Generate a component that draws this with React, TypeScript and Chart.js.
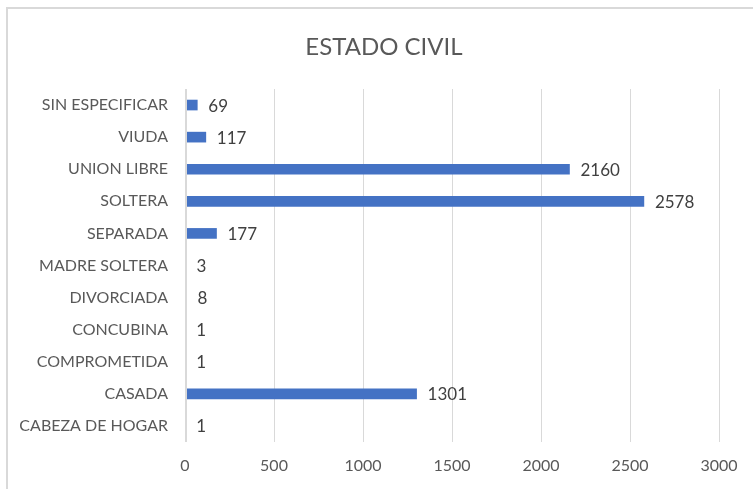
import React, { useEffect, useRef } from "react";
import { Chart, registerables } from "chart.js";

Chart.register(...registerables);

const categories = [
  "SIN ESPECIFICAR",
  "VIUDA",
  "UNION LIBRE",
  "SOLTERA",
  "SEPARADA",
  "MADRE SOLTERA",
  "DIVORCIADA",
  "CONCUBINA",
  "COMPROMETIDA",
  "CASADA",
  "CABEZA DE HOGAR",
];
const values = [69, 117, 2160, 2578, 177, 3, 8, 1, 1, 1301, 1];
const xMin = 0;
const xMax = 3000;
const xStep = 500;
const title = "ESTADO CIVIL";

const FONT = "Lato, 'DejaVu Sans', sans-serif";

const decorations = {
  id: "decorations",
  afterDatasetsDraw(chart: any) {
    const ctx = chart.ctx;
    const meta = chart.getDatasetMeta(0);
    const xs = chart.scales.x;
    const area = chart.chartArea;
    ctx.save();
    // axis line at zero, drawn over the bars' start
    ctx.strokeStyle = "#d9d9d9";
    ctx.lineWidth = 2;
    const x0 = Math.round(xs.getPixelForValue(0)) + 1;
    ctx.beginPath();
    ctx.moveTo(x0, area.top);
    ctx.lineTo(x0, area.bottom);
    ctx.stroke();
    // value labels
    ctx.font = `17px ${FONT}`;
    ctx.fillStyle = "#404040";
    ctx.textAlign = "left";
    ctx.textBaseline = "middle";
    meta.data.forEach((bar: any, i: number) => {
      ctx.fillText(String(values[i]), bar.x + 11, bar.y + 1);
    });
    // chart title, centred on the whole chart box
    ctx.font = `24px ${FONT}`;
    ctx.fillStyle = "#595959";
    ctx.textAlign = "center";
    ctx.fillText(title, chart.width / 2 - 1, 38);
    ctx.restore();
  },
};

export default function App() {
  const ref = useRef<HTMLCanvasElement>(null);
  useEffect(() => {
    document.body.style.margin = "0";
    document.documentElement.style.overflow = "hidden";
    const chart = new Chart(ref.current!, {
      type: "bar",
      data: {
        labels: categories,
        datasets: [
          {
            data: values,
            backgroundColor: "#4472C4",
            borderWidth: 0,
            barThickness: 10,
          },
        ],
      },
      plugins: [decorations],
      options: {
        indexAxis: "y",
        animation: false,
        responsive: false,
        maintainAspectRatio: false,
        layout: { padding: { left: 0, right: 43, top: 80, bottom: 0 } },
        plugins: {
          legend: { display: false },
          tooltip: { enabled: false },
          title: { display: false },
        },
        scales: {
          x: {
            min: xMin,
            max: xMax,
            ticks: {
              stepSize: xStep,
              color: "#595959",
              font: { family: FONT, size: 16 },
              padding: 14,
              callback: (v: any) => String(v),
            },
            grid: { color: "#d9d9d9", drawTicks: false, lineWidth: 1 },
            border: { display: false },
            afterFit(scale: any) {
              scale.height = 47;
            },
          },
          y: {
            ticks: {
              color: "#595959",
              font: { family: FONT, size: 16 },
              padding: 17,
              autoSkip: false,
            },
            grid: { display: false, drawTicks: false },
            border: { display: false },
            afterFit(scale: any) {
              scale.width = 177;
            },
          },
        },
      },
    });
    return () => chart.destroy();
  }, []);
  return (
    <div
      style={{
        position: "absolute",
        left: 6,
        top: 7,
        width: 754,
        height: 480,
        borderLeft: "2px solid #d9d9d9",
        borderTop: "2px solid #d9d9d9",
        background: "#fff",
      }}
    >
      <canvas ref={ref} width={754} height={480} style={{ display: "block" }} />
    </div>
  );
}
